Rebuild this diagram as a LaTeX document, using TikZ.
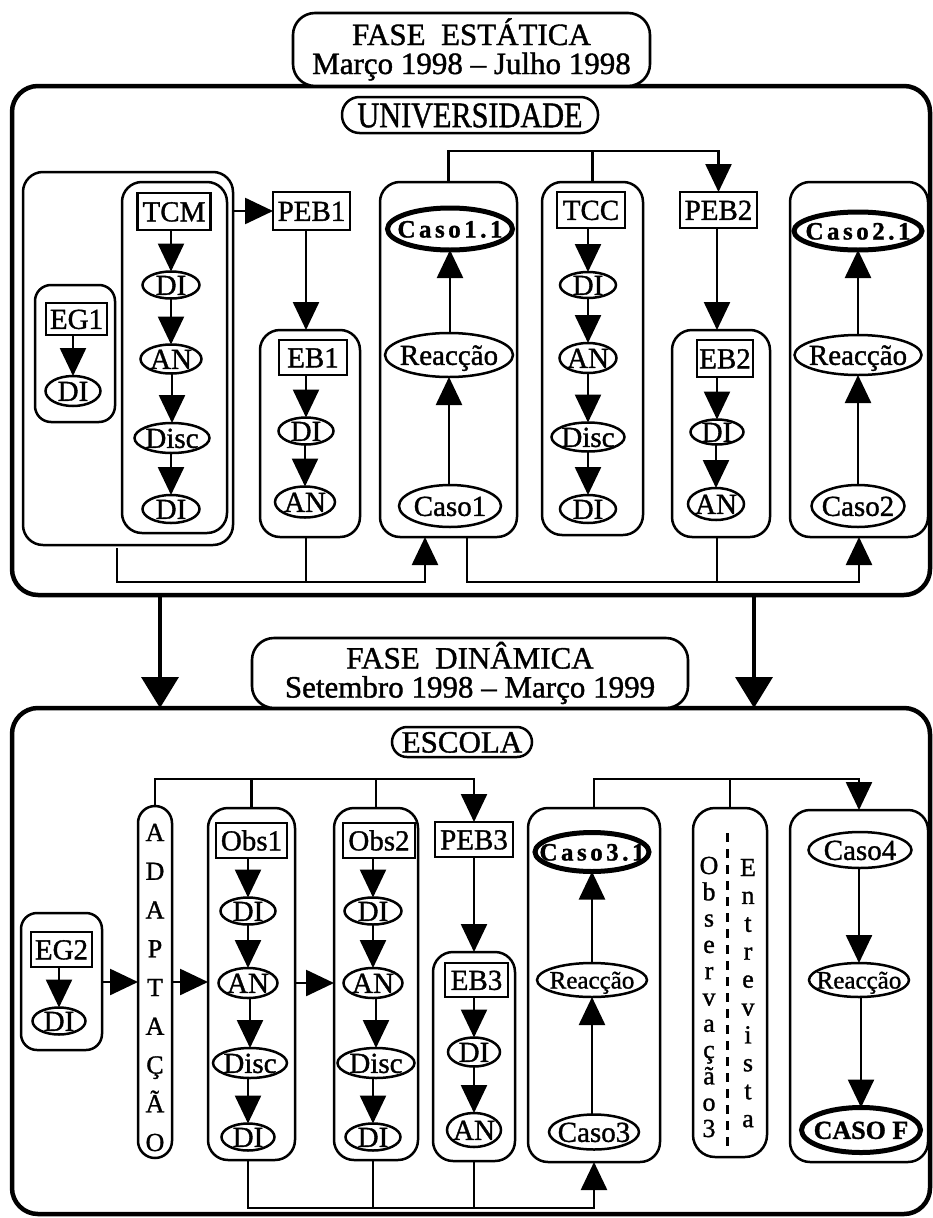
\documentclass[tikz,border=0pt]{standalone}
\usepackage{fontspec}
\setmainfont{Liberation Serif}[FakeBold=1.2]
\usetikzlibrary{arrows.meta,shapes.geometric}

% font size helper
\newcommand\fsz[1]{\fontsize{#1}{#1}\selectfont}
% zero-size label, centred on the node centre
\newcommand\tx[1]{\smash{\makebox[0pt]{\raisebox{-0.34em}{#1}}}}
% letter-spaced word
\newcommand\spaced[1]{\spacedA#1\relax\kern-3.5pt}
\def\spacedA#1{\ifx\relax#1\else#1\kern3.5pt\expandafter\spacedA\fi}

\begin{document}
\begin{tikzpicture}[x=1pt,y=-1pt,
  every node/.style={inner sep=0pt,outer sep=0pt},
  sz/.style 2 args={minimum width=#1pt,minimum height=#2pt},
  grp/.style={draw,line width=2.5pt,rectangle,rounded corners=20pt},
  tag/.style={draw,line width=2.5pt,rectangle,font=\fsz{29}},
  oval/.style={draw,line width=2.5pt,ellipse,font=\fsz{29}},
  keyoval/.style={draw,line width=5pt,ellipse,font=\bfseries\fsz{25}},
  pill/.style={draw,line width=2.5pt,rectangle,rounded corners=#1},
  heading/.style={draw,line width=2.6pt,rounded corners=22pt,fill=white,
    align=center,font=\fontsize{31}{29}\selectfont},
  outerbox/.style={draw,line width=4.5pt,rounded corners=26pt},
  arr/.style={line width=2.5pt,-{Triangle[length=28pt,width=26pt]}},
  wire/.style={line width=2.5pt},
  bigarr/.style={line width=3.6pt,-{Triangle[length=31pt,width=37pt]}},
  vchar/.style={anchor=base,font=\fsz{26}}
]
\useasboundingbox (0,0) rectangle (933,1218);

% ================= UNIVERSIDADE =================
\node[outerbox,sz={918}{509}] (bigbox1) at (471,340.5) {};
\node[heading,sz={357}{73}] (title1) at (471.5,49.5)
  {FASE\ \ ESTÁTICA\\Março 1998 – Julho 1998};
\node[pill=17.5pt,sz={256}{36},font=\fsz{36}] (univ) at (470,115)
  {\tx{\scalebox{0.84}[1]{UNIVERSIDADE}}};

% left group: EG1 and TCM
\node[grp,sz={210}{373}] (leftgrp) at (128,358.5) {};
\node[grp,rounded corners=16pt,sz={80}{137}] (eg1box) at (75,353.5) {};
\node[tag,sz={61}{32}] (eg1) at (76.5,319) {\tx{EG1}};
\node[oval,sz={55}{30}] (eg1di) at (73,391) {\tx{DI}};

\node[grp,sz={105}{351}] (tcmbox) at (174.5,357.5) {};
\node[tag,sz={73}{37}] (tcm) at (174,211.5) {\tx{TCM}};
\node[oval,sz={57}{27}] (tcmdia) at (171,285) {\tx{DI}};
\node[oval,sz={61}{29}] (tcman) at (171,359) {\tx{AN}};
\node[oval,sz={75}{30}] (tcmdisc) at (172,438) {\tx{Disc}};
\node[oval,sz={57}{28}] (tcmdib) at (171,509) {\tx{DI}};

% PEB1 / EB1
\node[tag,sz={77}{38}] (peb1) at (311.5,211) {\tx{PEB1}};
\node[grp,sz={100}{207}] (eb1box) at (310,433.5) {};
\node[tag,sz={68}{35}] (eb1) at (313,357.5) {\tx{EB1}};
\node[oval,sz={55}{27}] (eb1di) at (306,431) {\tx{DI}};
\node[oval,sz={60}{31}] (eb1an) at (305,502) {\tx{AN}};

% Caso1
\node[grp,sz={137}{355}] (c1box) at (448.5,359.5) {};
\node[keyoval,sz={125}{42}] (caso11) at (450,229) {\tx{\spaced{Caso1.1}}};
\node[oval,sz={128}{44}] (reac1) at (449,355) {\tx{Reacção}};
\node[oval,sz={102}{42}] (caso1) at (450,506) {\tx{Caso1}};

% TCC
\node[grp,sz={101}{353}] (tccbox) at (592.5,358.5) {};
\node[tag,sz={68}{36}] (tcc) at (591,210) {\tx{TCC}};
\node[oval,sz={56}{26}] (tccdia) at (588,285) {\tx{DI}};
\node[oval,sz={57}{30}] (tccan) at (588,358) {\tx{AN}};
\node[oval,sz={73}{29}] (tccdisc) at (588,437) {\tx{Disc}};
\node[oval,sz={56}{28}] (tccdib) at (588,509) {\tx{DI}};

% PEB2 / EB2
\node[tag,sz={77}{36}] (peb2) at (718.5,210) {\tx{PEB2}};
\node[grp,sz={98}{207}] (eb2box) at (721,433.5) {};
\node[tag,sz={56}{37}] (eb2) at (725,358.5) {\tx{EB2}};
\node[oval,sz={53}{25}] (eb2di) at (717,432) {\tx{DI}};
\node[oval,sz={56}{32}] (eb2an) at (716,504) {\tx{AN}};

% Caso2
\node[grp,sz={138}{355}] (c2box) at (859,359.5) {};
\node[keyoval,sz={128}{38}] (caso21) at (858,231) {\tx{\spaced{Caso2.1}}};
\node[oval,sz={127}{40}] (reac2) at (858,355) {\tx{Reacção}};
\node[oval,sz={93}{42}] (caso2) at (858,506) {\tx{Caso2}};

% chains inside the groups
\draw[arr] (eg1.south -| eg1di) -- (eg1di.north);
\draw[arr] (tcm.south -| tcmdia) -- (tcmdia.north);
\draw[arr] (tcmdia.south) -- (tcman.north);
\draw[arr] (tcman.south -| tcmdisc) -- (tcmdisc.north);
\draw[arr] (tcmdisc.south -| tcmdib) -- (tcmdib.north);
\draw[arr] (eb1.south -| eb1di) -- (eb1di.north);
\draw[arr] (eb1di.south -| eb1an) -- (eb1an.north);
\draw[arr] (caso1.north -| reac1) -- (reac1.south);
\draw[arr] (reac1.north -| caso11) -- (caso11.south);
\draw[arr] (tcc.south -| tccdia) -- (tccdia.north);
\draw[arr] (tccdia.south) -- (tccan.north);
\draw[arr] (tccan.south) -- (tccdisc.north);
\draw[arr] (tccdisc.south) -- (tccdib.north);
\draw[arr] (eb2.south -| eb2di) -- (eb2di.north);
\draw[arr] (eb2di.south -| eb2an) -- (eb2an.north);
\draw[arr] (caso2.north) -- (reac2.south);
\draw[arr] (reac2.north) -- (caso21.south);

% links between the groups
\draw[arr] (leftgrp.east |- peb1) -- (peb1.west);
\draw[arr] (peb1.south -| eb1di) -- (eb1box.north -| eb1di);
\draw[arr] (peb2.south -| eb2di) -- (eb2box.north -| eb2di);
\draw[arr] (c1box.north) -- ++(0,-31) -| (peb2.north);
\draw[wire] (tccbox.north) -- ++(0,-31);

\coordinate (bl) at (117,548);
\coordinate (blc) at (425,582);
\coordinate (brs) at (467,0);
\draw[arr] (bl) |- (blc) -- (c1box.south -| blc);
\draw[wire] (eb1box.south -| eb1di) -- (eb1di |- blc);
\draw[arr] (c1box.south -| brs) |- (c2box.south |- blc) -- (c2box.south);
\draw[wire] (eb2box.south -| eb2di) -- (eb2di |- blc);

% ================= ESCOLA =================
\node[outerbox,sz={918}{506}] (bigbox2) at (471,961) {};
\node[heading,sz={436}{70}] (title2) at (470,673)
  {FASE\ \ DINÂMICA\\Setembro 1998 – Março 1999};

\coordinate (dl) at (160,0);
\coordinate (dr) at (754,0);
\draw[bigarr] (bigbox1.south -| dl) -- (bigbox2.north -| dl);
\draw[bigarr] (bigbox1.south -| dr) -- (bigbox2.north -| dr);

\node[pill=15pt,sz={140}{30},font=\fsz{31}] (escola) at (462,742) {\tx{ESCOLA}};

% EG2
\node[grp,rounded corners=16pt,sz={81}{137}] (eg2box) at (61.5,981.5) {};
\node[tag,sz={61}{35}] (eg2) at (61.5,949.5) {\tx{EG2}};
\node[oval,sz={53}{27}] (eg2di) at (59,1021) {\tx{DI}};

% ADAPTACAO column
\node[pill=17pt,sz={34}{352}] (adapt) at (155,982) {};
\foreach \c [count=\i from 0] in {A,D,A,P,T,A,Ç,Ã,O}
  \node[vchar] (ad\i) at (155,{841+38.75*\i}) {\c};

% Obs1
\node[grp,sz={87}{352}] (obs1box) at (251.5,984) {};
\node[tag,sz={71}{35}] (obs1) at (251.5,840.5) {\tx{Obs1}};
\node[oval,sz={55}{27}] (o1dia) at (248,911) {\tx{DI}};
\node[oval,sz={59}{30}] (o1an) at (248,983) {\tx{AN}};
\node[oval,sz={74}{30}] (o1disc) at (250,1063) {\tx{Disc}};
\node[oval,sz={53}{27}] (o1dib) at (248,1137) {\tx{DI}};

% Obs2
\node[grp,sz={84}{352}] (obs2box) at (376,984) {};
\node[tag,sz={72}{35}] (obs2) at (379,840.5) {\tx{Obs2}};
\node[oval,sz={57}{27}] (o2dia) at (373,911) {\tx{DI}};
\node[oval,sz={59}{30}] (o2an) at (373,983) {\tx{AN}};
\node[oval,sz={77}{30}] (o2disc) at (376,1063) {\tx{Disc}};
\node[oval,sz={55}{27}] (o2dib) at (373,1137) {\tx{DI}};

% PEB3 / EB3
\node[tag,sz={78}{35}] (peb3) at (474,839.5) {\tx{PEB3}};
\node[grp,sz={82}{209}] (eb3box) at (474,1056.5) {};
\node[tag,sz={63}{34}] (eb3) at (476.5,980) {\tx{EB3}};
\node[oval,sz={52}{29}] (eb3di) at (474,1052) {\tx{DI}};
\node[oval,sz={54}{34}] (eb3an) at (474,1130) {\tx{AN}};

% Caso3
\node[grp,sz={132}{354}] (c3box) at (594,985) {};
\node[keyoval,sz={114}{39}] (caso31) at (592,852) {\tx{\spaced{Caso3.1}}};
\node[oval,sz={110}{34},font=\fsz{25}] (reac3) at (592,980) {\tx{Reacção}};
\node[oval,sz={90}{35}] (caso3) at (594,1132) {\tx{Caso3}};

% Observacao 3 / Entrevista
\node[grp,rounded corners=22pt,sz={74}{349}] (obsbox) at (730,982.5) {};
\draw[line width=3pt,dash pattern=on 9pt off 7pt] (727,833) -- (727,1150);
\foreach \c [count=\i from 0] in {O,b,s,e,r,v,a,ç,ã,o,3}
  \node[vchar] (ob\i) at (709,{874+26.3*\i}) {\c};
\foreach \c [count=\i from 0] in {E,n,t,r,e,v,i,s,t,a}
  \node[vchar] (en\i) at (748,{876+27.9*\i}) {\c};

% Caso4
\node[grp,sz={138}{352}] (c4box) at (859,986) {};
\node[oval,sz={103}{36}] (caso4) at (860,850) {\tx{Caso4}};
\node[oval,sz={100}{34},font=\fsz{25}] (reac4) at (859,980) {\tx{Reacção}};
\node[keyoval,sz={119}{45},font=\bfseries\fsz{26}] (casof) at (861,1130) {\tx{CASO F}};

% chains inside the groups
\draw[arr] (eg2.south -| eg2di) -- (eg2di.north);
\draw[arr] (obs1.south -| o1dia) -- (o1dia.north);
\draw[arr] (o1dia.south) -- (o1an.north);
\draw[arr] (o1an.south -| o1disc) -- (o1disc.north);
\draw[arr] (o1disc.south -| o1dib) -- (o1dib.north);
\draw[arr] (obs2.south -| o2dia) -- (o2dia.north);
\draw[arr] (o2dia.south) -- (o2an.north);
\draw[arr] (o2an.south -| o2disc) -- (o2disc.north);
\draw[arr] (o2disc.south -| o2dib) -- (o2dib.north);
\draw[arr] (eb3.south -| eb3di) -- (eb3di.north);
\draw[arr] (eb3di.south) -- (eb3an.north);
\draw[arr] (caso3.north -| reac3) -- (reac3.south);
\draw[arr] (reac3.north) -- (caso31.south);
\draw[arr] (caso4.south -| reac4) -- (reac4.north);
\draw[arr] (reac4.south -| casof) -- (casof.north);

% links between the groups
\draw[arr] (eg2box.east |- adapt) -- (adapt.west);
\draw[arr] (adapt.east) -- (obs1box.west |- adapt);
\draw[arr] (obs1box.east |- o1an) -- (obs2box.west |- o1an);
\draw[arr] (peb3.south) -- (eb3box.north);
\draw[arr] (adapt.north) -- ++(0,-27) -| (peb3.north);
\draw[wire] (obs1box.north) -- ++(0,-29);
\draw[wire] (obs2box.north) -- ++(0,-29);
\draw[arr] (c3box.north) -- ++(0,-29) -| (c4box.north);
\draw[wire] (obsbox.north) -- ++(0,-29);

\coordinate (lb) at (0,1208);
\draw[arr] (obs1box.south -| o1dib) |- (c3box.south |- lb) -- (c3box.south);
\draw[wire] (obs2box.south -| o2dib) -- (o2dib |- lb);
\draw[wire] (eb3box.south) -- (eb3box.south |- lb);
\end{tikzpicture}
\end{document}
